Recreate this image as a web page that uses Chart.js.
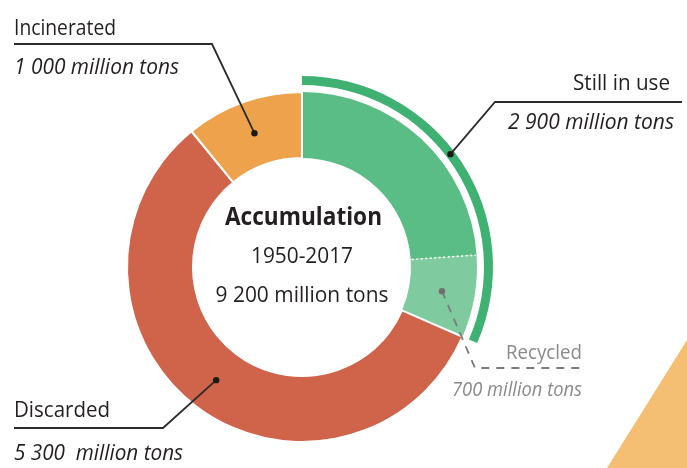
<!DOCTYPE html>
<html>
<head>
<meta charset="utf-8">
<script src="https://cdn.jsdelivr.net/npm/chart.js@4/dist/chart.umd.min.js"></script>
<style>
  html, body { margin: 0; padding: 0; background: #ffffff; }
  #wrap { width: 687px; height: 468px; position: relative; }
</style>
</head>
<body>
<div id="wrap"><canvas id="c" width="687" height="468"></canvas></div>
<script>
// ---- data (million tons, 1950-2017) ----
const categories = ['Still in use', 'Recycled', 'Discarded', 'Incinerated'];
const mainValues = [2200, 700, 5300, 1000];
const stillInUseTotal = 2900;
const totalAccumulation = 9200;
const outerArcValues = [stillInUseTotal, totalAccumulation - stillInUseTotal];
const labelTitles = ['Incinerated', 'Still in use', 'Recycled', 'Discarded'];
const labelValues = ['1 000 million tons', '2 900 million tons', '700 million tons', '5 300  million tons'];
const centerTexts = ['Accumulation', '1950-2017', '9 200 million tons'];

const COLORS = {
  still: '#5bbd86', recycled: '#7fcb9f', discarded: '#d0644a', incinerated: '#efa24c',
  outer: '#3fb172', text: '#231f20', grey: '#8a8a8a', tri: '#f4be73'
};

function fitText(ctx, text, x, y, font, width, align, color) {
  ctx.save();
  ctx.font = font;
  const w = ctx.measureText(text).width;
  const s = width / w;
  const left = align === 'right' ? x - width : (align === 'center' ? x - width / 2 : x);
  ctx.fillStyle = color;
  ctx.textAlign = 'left';
  ctx.textBaseline = 'alphabetic';
  ctx.translate(left, y);
  ctx.scale(s, 1);
  ctx.fillText(text, 0, 0);
  ctx.restore();
}
function dot(ctx, p, r, color) {
  ctx.beginPath(); ctx.arc(p.x, p.y, r, 0, Math.PI * 2); ctx.fillStyle = color; ctx.fill();
}
function polyline(ctx, pts, color, w, dash) {
  ctx.save();
  ctx.strokeStyle = color; ctx.lineWidth = w; ctx.setLineDash(dash || []);
  ctx.beginPath(); ctx.moveTo(pts[0][0], pts[0][1]);
  for (let i = 1; i < pts.length; i++) ctx.lineTo(pts[i][0], pts[i][1]);
  ctx.stroke(); ctx.restore();
}
function arcPoint(el, angle, r) {
  return { x: el.x + r * Math.cos(angle), y: el.y + r * Math.sin(angle) };
}

const decorPlugin = {
  id: 'decor',
  beforeDraw(chart) {
    const ctx = chart.ctx;
    ctx.save();
    ctx.fillStyle = COLORS.tri;
    ctx.beginPath(); ctx.moveTo(687, 340); ctx.lineTo(687, 468); ctx.lineTo(607, 468); ctx.closePath(); ctx.fill();
    ctx.restore();
  },
  afterDraw(chart) {
    const ctx = chart.ctx;
    const main = chart.getDatasetMeta(2).data;
    const outer = chart.getDatasetMeta(0).data[0];
    const still = main[0], rec = main[1], disc = main[2], inc = main[3];

    // dotted separator between still-in-use and recycled
    const a = still.endAngle;
    const p1 = arcPoint(still, a, still.innerRadius + 1), p2 = arcPoint(still, a, still.outerRadius - 1);
    polyline(ctx, [[p1.x, p1.y], [p2.x, p2.y]], '#ffffff', 1.6, [2, 2.5]);

    // center text
    const cx = still.x, cy = still.y;
    fitText(ctx, centerTexts[0], cx + 1.5, 225, 'bold 25px "Open Sans"', 157, 'center', COLORS.text);
    fitText(ctx, centerTexts[1], cx, 263, '22px "Open Sans"', 102, 'center', COLORS.text);
    fitText(ctx, centerTexts[2], cx, 302, '22px "Open Sans"', 173, 'center', COLORS.text);

    // Incinerated
    const pInc = inc.tooltipPosition();
    polyline(ctx, [[14, 44], [212, 44], [pInc.x, pInc.y]], '#2b2b2b', 1.8);
    dot(ctx, pInc, 3.2, '#1a1a1a');
    fitText(ctx, labelTitles[0], 14, 35, '22px "Open Sans"', 102, 'left', COLORS.text);
    fitText(ctx, labelValues[0], 14, 74, 'italic 21px "Open Sans"', 165, 'left', COLORS.text);

    // Still in use (anchor on outer arc)
    const ang = outer.startAngle + 0.465 * (outer.endAngle - outer.startAngle);
    const pStill = arcPoint(outer, ang, (outer.innerRadius + outer.outerRadius) / 2);
    polyline(ctx, [[682, 102], [495, 102], [pStill.x, pStill.y]], '#2b2b2b', 1.8);
    dot(ctx, pStill, 3.2, '#1a1a1a');
    fitText(ctx, labelTitles[1], 670, 90, '22px "Open Sans"', 97, 'right', COLORS.text);
    fitText(ctx, labelValues[1], 674, 129, 'italic 21px "Open Sans"', 166, 'right', COLORS.text);

    // Recycled
    const pRec = rec.tooltipPosition();
    polyline(ctx, [[pRec.x, pRec.y], [475, 368], [583, 368]], '#7a7a7a', 1.8, [8, 7]);
    dot(ctx, pRec, 3.2, '#6f6f6f');
    fitText(ctx, labelTitles[2], 582, 359, '20px "Open Sans"', 76, 'right', COLORS.grey);
    fitText(ctx, labelValues[2], 582, 396, 'italic 20px "Open Sans"', 130, 'right', COLORS.grey);

    // Discarded
    const pDisc = disc.tooltipPosition();
    polyline(ctx, [[14, 428], [163, 428], [pDisc.x, pDisc.y]], '#2b2b2b', 1.8);
    dot(ctx, pDisc, 3.2, '#1a1a1a');
    fitText(ctx, labelTitles[3], 14, 417, '22px "Open Sans"', 96, 'left', COLORS.text);
    fitText(ctx, labelValues[3], 14, 460, 'italic 21px "Open Sans"', 169, 'left', COLORS.text);
  }
};

new Chart(document.getElementById('c'), {
  type: 'doughnut',
  data: {
    labels: categories,
    datasets: [
      { data: outerArcValues, backgroundColor: [COLORS.outer, 'rgba(0,0,0,0)'], borderWidth: 0, weight: 9 },
      { data: [totalAccumulation], backgroundColor: ['rgba(0,0,0,0)'], borderWidth: 0, weight: 7 },
      { data: mainValues,
        backgroundColor: [COLORS.still, COLORS.recycled, COLORS.discarded, COLORS.incinerated],
        borderColor: '#ffffff', borderWidth: [0, 0, 2, 2], weight: 66 }
    ]
  },
  options: {
    responsive: false,
    animation: false,
    radius: 191,
    cutout: '57.07%',
    rotation: 0,
    layout: { padding: { left: 111, right: 194, top: 76, bottom: 10 } },
    plugins: { legend: { display: false }, tooltip: { enabled: false } },
    events: []
  },
  plugins: [decorPlugin]
});
</script>
</body>
</html>
